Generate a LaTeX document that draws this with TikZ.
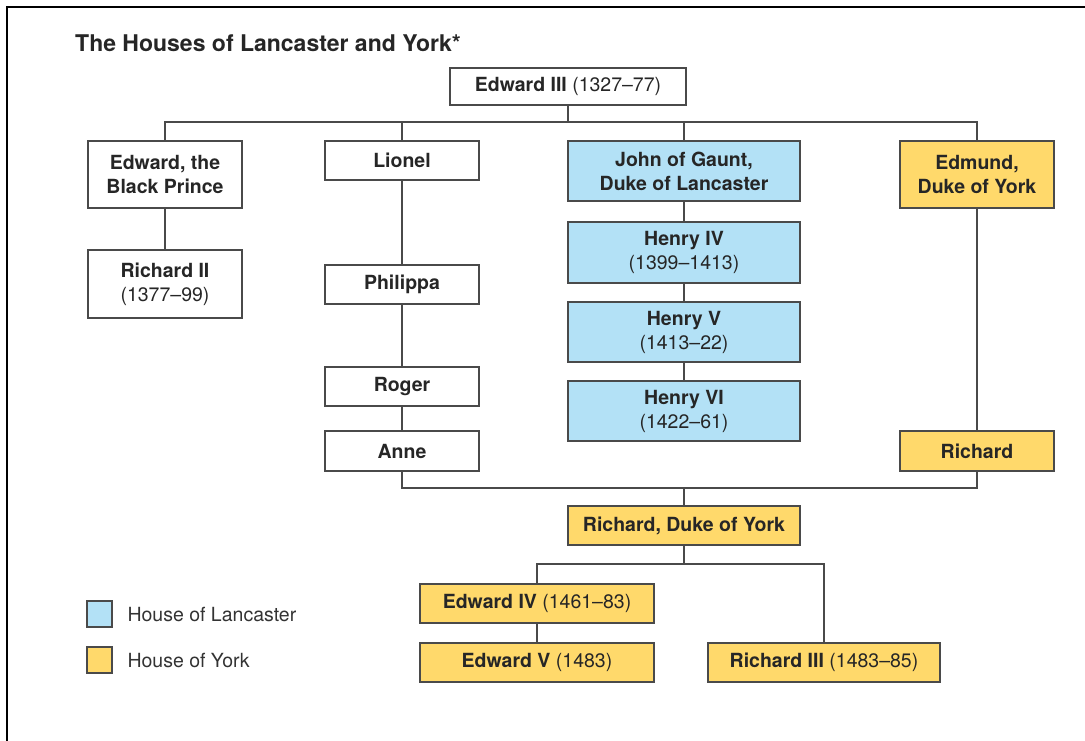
\documentclass[tikz,border=0pt]{standalone}
\usepackage{fontspec}
\setmainfont{TeX Gyre Heros}
\definecolor{lanc}{HTML}{B3E1F6}
\definecolor{york}{HTML}{FFD96B}
\definecolor{edge}{HTML}{4A4A4A}
\begin{document}
\begin{tikzpicture}[x=1pt,y=-1pt,
  box/.style={draw=edge,line width=1.3pt,rectangle,inner sep=0pt,align=center,
    font=\fontsize{19.5}{24}\selectfont,text=black!85},
  lbox/.style={box,fill=lanc},
  ybox/.style={box,fill=york},
  link/.style={draw=edge,line width=1.3pt},
  legtext/.style={anchor=west,font=\fontsize{19.5}{22}\selectfont,text=black!80}]
\useasboundingbox (0,0) rectangle (1085,740);
\draw[line width=2pt] (7,745) -- (7,7) -- (1090,7);
\node[anchor=base west,inner sep=0pt,font=\fontsize{23}{26}\selectfont\bfseries,text=black!85] (title) at (75,51) {The Houses of Lancaster and York*};
% nodes
\node[box,minimum width=236pt,minimum height=37pt] (e3) at (568,86.5) {\textbf{Edward III} (1327–77)};
\node[box,minimum width=154pt,minimum height=67pt] (bp) at (165,174.5) {\textbf{Edward, the}\\\textbf{Black Prince}};
\node[box,minimum width=154pt,minimum height=68pt] (r2) at (165,284) {\textbf{Richard II}\\(1377–99)};
\node[box,minimum width=154pt,minimum height=39pt] (lio) at (402,160.5) {\textbf{Lionel}};
\node[box,minimum width=154pt,minimum height=39pt] (phi) at (402,284.5) {\textbf{Philippa}};
\node[box,minimum width=154pt,minimum height=39pt] (rog) at (402,386.5) {\textbf{Roger}};
\node[box,minimum width=154pt,minimum height=40pt] (ann) at (402,451) {\textbf{Anne}};
\node[lbox,minimum width=232pt,minimum height=60pt] (jg) at (684,171) {\textbf{John of Gaunt,}\\\textbf{Duke of Lancaster}};
\node[lbox,minimum width=232pt,minimum height=61pt] (h4) at (684,252.5) {\textbf{Henry IV}\\(1399–1413)};
\node[lbox,minimum width=232pt,minimum height=60pt] (h5) at (684,332) {\textbf{Henry V}\\(1413–22)};
\node[lbox,minimum width=232pt,minimum height=60pt] (h6) at (684,411) {\textbf{Henry VI}\\(1422–61)};
\node[ybox,minimum width=154pt,minimum height=67pt] (ed) at (977,174.5) {\textbf{Edmund,}\\\textbf{Duke of York}};
\node[ybox,minimum width=154pt,minimum height=40pt] (ric) at (977,451) {\textbf{Richard}};
\node[ybox,minimum width=232pt,minimum height=39pt] (rdy) at (684,525.5) {\textbf{Richard, Duke of York}};
\node[ybox,minimum width=234pt,minimum height=39pt] (e4) at (537,603.5) {\textbf{Edward IV} (1461–83)};
\node[ybox,minimum width=234pt,minimum height=39pt] (e5) at (537,662.5) {\textbf{Edward V} (1483)};
\node[ybox,minimum width=232pt,minimum height=39pt] (r3) at (824,662.5) {\textbf{Richard III} (1483–85)};
% legend
\node[lbox,minimum width=25pt,minimum height=26pt] (kl) at (99.5,614) {};
\node[ybox,minimum width=25pt,minimum height=26pt] (ky) at (99.5,660) {};
\node[legtext] (tl) at (124,614) {House of Lancaster};
\node[legtext] (ty) at (124,660) {House of York};
% connectors
\coordinate (top) at (568,122);
\draw[link] (e3.south) -- (top);
\draw[link] (bp.north) |- (top) -| (ed.north);
\draw[link] (lio.north) -- (lio.north |- top);
\draw[link] (jg.north) -- (jg.north |- top);
\draw[link] (bp) -- (r2);
\draw[link] (lio) -- (phi);
\draw[link] (phi) -- (rog);
\draw[link] (rog) -- (ann);
\draw[link] (jg) -- (h4);
\draw[link] (h4) -- (h5);
\draw[link] (h5) -- (h6);
\draw[link] (ed) -- (ric);
\coordinate (mid) at (684,488);
\draw[link] (ann.south) |- (mid) -| (ric.south);
\draw[link] (mid) -- (rdy.north);
\coordinate (low) at (684,564);
\draw[link] (rdy.south) -- (low);
\draw[link] (e4.north) |- (low) -| (r3.north);
\draw[link] (e4) -- (e5);
\end{tikzpicture}
\end{document}
